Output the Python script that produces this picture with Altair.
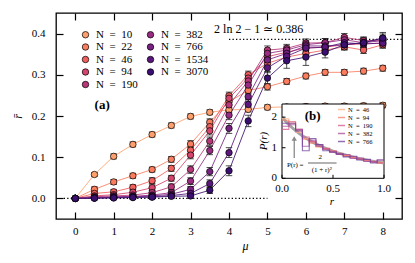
import altair as alt
import pandas as pd

FONT = "Liberation Serif"

# ---------------- main panel data ----------------
mu = [0, 0.5, 1, 1.5, 2, 2.5, 3, 3.5, 4, 4.5, 5, 5.5, 6, 6.5, 7, 7.5, 8]
sizes = ["10", "22", "46", "94", "190", "382", "766", "1534", "3070"]
colors = ["#fe9f6d", "#fa7d5e", "#f1605d", "#d4446c", "#b73779",
          "#972c80", "#782281", "#5a167c", "#3b0f70"]

rbar_10 = [0, 0.058, 0.102, 0.131, 0.155, 0.177, 0.199, 0.209, 0.215, 0.216, 0.221, 0.222, 0.223, 0.224, 0.224, 0.225, 0.226]
rbar_22 = [0, 0.022, 0.040, 0.055, 0.070, 0.095, 0.132, 0.185, 0.235, 0.262, 0.271, 0.284, 0.297, 0.306, 0.306, 0.309, 0.316]
rbar_46 = [0, 0.012, 0.016, 0.027, 0.043, 0.073, 0.117, 0.174, 0.249, 0.300, 0.328, 0.343, 0.352, 0.360, 0.368, 0.360, 0.373]
rbar_94 = [0, 0.006, 0.009, 0.015, 0.026, 0.049, 0.105, 0.164, 0.243, 0.292, 0.344, 0.355, 0.365, 0.367, 0.373, 0.375, 0.377]
rbar_190 = [0, 0.004, 0.006, 0.008, 0.014, 0.028, 0.070, 0.139, 0.227, 0.285, 0.360, 0.364, 0.377, 0.378, 0.391, 0.383, 0.383]
rbar_382 = [0, 0.002, 0.004, 0.005, 0.008, 0.014, 0.042, 0.116, 0.202, 0.275, 0.352, 0.360, 0.373, 0.378, 0.385, 0.378, 0.389]
rbar_766 = [0, 0.001, 0.003, 0.004, 0.006, 0.010, 0.022, 0.065, 0.170, 0.247, 0.336, 0.352, 0.370, 0.370, 0.373, 0.378, 0.383]
rbar_1534 = [0, 0.001, 0.002, 0.003, 0.004, 0.007, 0.012, 0.036, 0.111, 0.228, 0.317, 0.345, 0.365, 0.367, 0.378, 0.375, 0.377]
rbar_3070 = [0, 0.0005, 0.001, 0.002, 0.003, 0.005, 0.006, 0.020, 0.067, 0.188, 0.292, 0.334, 0.343, 0.355, 0.373, 0.378, 0.389]

err_10 = [0, 0.005, 0.006, 0.006, 0.006, 0.006, 0.006, 0.006, 0.006, 0.006, 0.006, 0.006, 0.006, 0.006, 0.006, 0.006, 0.006]
err_22 = [0, 0.006, 0.006, 0.006, 0.006, 0.007, 0.008, 0.008, 0.008, 0.008, 0.008, 0.007, 0.007, 0.007, 0.007, 0.007, 0.007]
err_46 = [0, 0.006, 0.006, 0.006, 0.007, 0.007, 0.008, 0.009, 0.009, 0.009, 0.009, 0.008, 0.008, 0.008, 0.008, 0.008, 0.008]
err_94 = [0, 0.005, 0.006, 0.006, 0.007, 0.007, 0.009, 0.010, 0.010, 0.010, 0.009, 0.009, 0.009, 0.009, 0.009, 0.009, 0.009]
err_190 = [0, 0.005, 0.005, 0.006, 0.006, 0.007, 0.009, 0.010, 0.011, 0.010, 0.010, 0.010, 0.010, 0.010, 0.009, 0.009, 0.009]
err_382 = [0, 0.004, 0.005, 0.005, 0.006, 0.006, 0.008, 0.010, 0.011, 0.011, 0.010, 0.010, 0.010, 0.010, 0.010, 0.010, 0.010]
err_766 = [0, 0.004, 0.004, 0.005, 0.005, 0.006, 0.007, 0.010, 0.012, 0.011, 0.011, 0.011, 0.011, 0.011, 0.011, 0.011, 0.011]
err_1534 = [0, 0.004, 0.004, 0.004, 0.005, 0.005, 0.006, 0.009, 0.012, 0.012, 0.012, 0.012, 0.012, 0.012, 0.012, 0.012, 0.012]
err_3070 = [0, 0.004, 0.004, 0.004, 0.004, 0.005, 0.006, 0.008, 0.012, 0.014, 0.016, 0.018, 0.020, 0.014, 0.012, 0.012, 0.014]

# reference lines
ref_x1 = [-0.3, 4.0]
ref_x2 = [5.0, 8.5]
ref_y = [0.0, 0.386]

# ---------------- inset data ----------------
r_edges = [0.0, 0.067, 0.133, 0.2, 0.267, 0.333, 0.4, 0.467, 0.533, 0.6, 0.667, 0.733, 0.8, 0.867, 0.933, 1.0]
hist_sizes = ["46", "94", "190", "382", "766"]
hist_colors = ["#fdae80", "#f47f6e", "#d6588a", "#a8489a", "#6b3f9c"]
hist_46 = [1.95, 1.85, 1.50, 1.30, 1.20, 1.02, 0.98, 0.88, 0.80, 0.75, 0.70, 0.62, 0.60, 0.55, 0.50]
hist_94 = [1.90, 1.80, 1.55, 1.28, 1.15, 1.05, 0.95, 0.90, 0.82, 0.74, 0.68, 0.64, 0.58, 0.56, 0.52]
hist_190 = [1.60, 1.85, 1.60, 1.35, 1.20, 1.10, 0.98, 0.85, 0.80, 0.72, 0.70, 0.62, 0.60, 0.53, 0.50]
hist_382 = [1.70, 1.75, 1.60, 1.05, 1.25, 1.05, 0.95, 0.88, 0.78, 0.78, 0.65, 0.66, 0.55, 0.55, 0.60]
hist_766 = [1.80, 1.80, 1.55, 0.90, 1.30, 1.10, 0.90, 0.85, 0.80, 0.70, 0.72, 0.60, 0.62, 0.50, 0.60]

r_theory = [0.0, 0.1, 0.2, 0.3, 0.4, 0.5, 0.6, 0.7, 0.8, 0.9, 1.0]
p_theory = [2.0, 1.653, 1.389, 1.183, 1.020, 0.889, 0.781, 0.692, 0.617, 0.554, 0.5]

inset_xticks = [0.0, 0.5, 1.0]
inset_xlabels = ["0.0", "0.5", "1.0"]
inset_yticks = [0, 1, 2]
inset_ylabels = ["0", "1", "2"]

# ---------------- build tables ----------------
series = [rbar_10, rbar_22, rbar_46, rbar_94, rbar_190, rbar_382, rbar_766, rbar_1534, rbar_3070]
errors = [err_10, err_22, err_46, err_94, err_190, err_382, err_766, err_1534, err_3070]
rows = []
for n, vals, es in zip(sizes, series, errors):
    for m, v, e in zip(mu, vals, es):
        rows.append({"mu": m, "rbar": v, "lo": v - e, "hi": v + e, "err": e, "N": n})
df = pd.DataFrame(rows)

ref_df = pd.DataFrame({"x1": ref_x1, "x2": ref_x2, "y": ref_y})

hrows = []
for n, vals in zip(hist_sizes, [hist_46, hist_94, hist_190, hist_382, hist_766]):
    steps = vals + [vals[-1]]
    for r, p in zip(r_edges, steps):
        hrows.append({"r": r, "p": p, "N": n})
hdf = pd.DataFrame(hrows)
th_df = pd.DataFrame({"r": r_theory, "p": p_theory})

# ---------------- main panel ----------------
W, H = 346, 206
xs = alt.Scale(domain=[-0.5, 8.5], nice=False, zero=False)
ys = alt.Scale(domain=[-0.05, 0.45], nice=False, zero=False)

common_tick = dict(tickSize=7, tickWidth=1.2, tickColor="black", domain=False, grid=False, offset=-7)
ax_bottom = alt.Axis(orient="bottom", values=list(range(9)), format="d",
                     labelFont=FONT, labelFontSize=11, labelColor="black", labelPadding=6,
                     title="μ", titleFont=FONT, titleFontStyle="italic", titleFontWeight="normal",
                     titleFontSize=12, titleColor="black", titleX=189, titleY=33,
                     titleBaseline="middle", **common_tick)
ax_left = alt.Axis(orient="left", values=[0, 0.1, 0.2, 0.3, 0.4], format=".1f",
                   labelFont=FONT, labelFontSize=11, labelColor="black", labelPadding=11,
                   title="r̄", titleFont=FONT, titleFontStyle="italic", titleFontWeight="normal",
                   titleFontSize=12, titleColor="black", titleX=-46, titleY=103,
                   titleBaseline="middle", **common_tick)
ax_top = alt.Axis(orient="top", values=list(range(9)), labels=False, title=None, **common_tick)
ax_right = alt.Axis(orient="right", values=[0, 0.1, 0.2, 0.3, 0.4], labels=False, title=None, **common_tick)

ref = alt.Chart(ref_df).mark_rule(color="black", strokeWidth=1.3, strokeDash=[1.3, 2.2]).encode(
    x=alt.X("x1:Q", scale=xs, axis=ax_top),
    x2="x2:Q",
    y=alt.Y("y:Q", scale=ys, axis=ax_right),
)

base = alt.Chart(df)
lines = base.mark_line(strokeWidth=1.0, opacity=0.85).encode(
    x=alt.X("mu:Q", scale=xs, axis=ax_bottom),
    y=alt.Y("rbar:Q", scale=ys, axis=ax_left),
    stroke=alt.Stroke("N:N", scale=alt.Scale(domain=sizes, range=colors), legend=None),
    order="mu:Q",
)
ebars = base.transform_filter("datum.err > 0").mark_rule(color="#222222", strokeWidth=0.8).encode(
    x=alt.X("mu:Q", scale=xs, axis=None),
    y=alt.Y("lo:Q", scale=ys, axis=None),
    y2="hi:Q",
)
cap_hi = base.transform_filter("datum.err > 0").mark_tick(
    orient="horizontal", size=6.5, thickness=0.8, color="#222222", opacity=1).encode(
    x=alt.X("mu:Q", scale=xs, axis=None),
    y=alt.Y("hi:Q", scale=ys, axis=None),
)
cap_lo = base.transform_filter("datum.err > 0").mark_tick(
    orient="horizontal", size=6.5, thickness=0.8, color="#222222", opacity=1).encode(
    x=alt.X("mu:Q", scale=xs, axis=None),
    y=alt.Y("lo:Q", scale=ys, axis=None),
)
points = base.mark_circle(size=42, stroke="black", strokeWidth=0.7, opacity=1).encode(
    x=alt.X("mu:Q", scale=xs, axis=None),
    y=alt.Y("rbar:Q", scale=ys, axis=None),
    fill=alt.Fill("N:N", scale=alt.Scale(domain=sizes, range=colors),
                  legend=alt.Legend(orient="none", legendX=24, legendY=16, columns=2, title=None,
                                    symbolType="circle", symbolSize=42, symbolStrokeColor="black",
                                    symbolStrokeWidth=0.7, labelFont=FONT, labelFontSize=11,
                                    labelColor="black", labelOffset=5, rowPadding=0.5,
                                    columnPadding=7, padding=0,
                                    labelExpr="'N\u2002=\u2002' + datum.label")),
)

annot = alt.Chart(pd.DataFrame({"x": [4.77], "y": [0.411], "t": ["2 ln 2 − 1 ≃ 0.386"]})).mark_text(
    font=FONT, fontSize=12, color="black", align="center", baseline="middle").encode(
    x=alt.X("x:Q", scale=xs, axis=None), y=alt.Y("y:Q", scale=ys, axis=None), text="t:N")
label_a = alt.Chart(pd.DataFrame({"x": [0.70], "y": [0.226], "t": ["(a)"]})).mark_text(
    font=FONT, fontSize=13, fontWeight="bold", color="black", align="center", baseline="middle").encode(
    x=alt.X("x:Q", scale=xs, axis=None), y=alt.Y("y:Q", scale=ys, axis=None), text="t:N")

main = alt.layer(ref, lines, ebars, cap_hi, cap_lo, points, annot, label_a).resolve_axis(
    x="independent", y="independent")

# ---------------- inset ----------------
ixs = alt.Scale(domain=[0, 1], range=[226, 328], nice=False, zero=False)
iys = alt.Scale(domain=[0, 2.43], range=[165.3, 91], nice=False, zero=False)

bg = alt.Chart(pd.DataFrame({"r0": [0], "r1": [1], "p0": [0], "p1": [2.43]})).mark_rect(
    fill="white", stroke="black", strokeWidth=1).encode(
    x=alt.X("r0:Q", scale=ixs, axis=None), x2="r1:Q",
    y=alt.Y("p0:Q", scale=iys, axis=None), y2="p1:Q")

theory = alt.Chart(th_df).mark_line(color="#9a9a9a", strokeWidth=3, opacity=0.9, interpolate="monotone").encode(
    x=alt.X("r:Q", scale=ixs, axis=None), y=alt.Y("p:Q", scale=iys, axis=None))

hist = alt.Chart(hdf).mark_line(interpolate="step-after", strokeWidth=1.1, opacity=0.75).encode(
    x=alt.X("r:Q", scale=ixs, axis=None),
    y=alt.Y("p:Q", scale=iys, axis=None),
    stroke=alt.Stroke("N:N", scale=alt.Scale(domain=hist_sizes, range=hist_colors),
                      legend=alt.Legend(orient="none", legendX=281, legendY=92, title=None,
                                        symbolType="stroke", symbolSize=49, symbolStrokeWidth=1.5,
                                        labelFont=FONT, labelFontSize=6.5, labelColor="black",
                                        labelOffset=2, rowPadding=0, padding=0,
                                        labelExpr="'N\u2002=\u2002' + datum.label")),
    order="r:Q",
)

# inset tick marks (inward) and tick labels
xt_df = pd.DataFrame({"r": inset_xticks, "lab": inset_xlabels})
yt_df = pd.DataFrame({"p": inset_yticks, "lab": inset_ylabels})
ixtick = alt.Chart(xt_df).mark_rule(color="black", strokeWidth=1).encode(
    x=alt.X("r:Q", scale=ixs, axis=None), y=alt.value(165.3), y2=alt.value(161.8))
ixlab = alt.Chart(xt_df).mark_text(font=FONT, fontSize=11, color="black", align="center", baseline="top").encode(
    x=alt.X("r:Q", scale=ixs, axis=None), y=alt.value(170), text="lab:N")
iytick = alt.Chart(yt_df).mark_rule(color="black", strokeWidth=1).encode(
    y=alt.Y("p:Q", scale=iys, axis=None), x=alt.value(226), x2=alt.value(229.5))
iylab = alt.Chart(yt_df).mark_text(font=FONT, fontSize=11, color="black", align="right", baseline="middle").encode(
    y=alt.Y("p:Q", scale=iys, axis=None), x=alt.value(221), text="lab:N")
ixtitle = alt.Chart(pd.DataFrame({"r": [0.49], "t": ["r"]})).mark_text(
    font=FONT, fontSize=11, fontStyle="italic", color="black", align="center", baseline="middle").encode(
    x=alt.X("r:Q", scale=ixs, axis=None), y=alt.value(188.7), text="t:N")
iytitle = alt.Chart(pd.DataFrame({"p": [1.22], "t": ["P(r)"]})).mark_text(
    font=FONT, fontSize=11, fontStyle="italic", color="black", align="center", baseline="middle",
    angle=270).encode(
    y=alt.Y("p:Q", scale=iys, axis=None), x=alt.value(208), text="t:N")

arrow_shaft = alt.Chart(pd.DataFrame({"r": [0.12], "p0": [0.66], "p1": [1.28]})).mark_rule(
    color="#8a8a8a", strokeWidth=1.3).encode(
    x=alt.X("r:Q", scale=ixs, axis=None), y=alt.Y("p0:Q", scale=iys, axis=None), y2="p1:Q")
arrow_head = alt.Chart(pd.DataFrame({"r": [0.12], "p": [1.30]})).mark_point(
    shape="triangle-up", filled=True, color="#8a8a8a", size=28, opacity=1).encode(
    x=alt.X("r:Q", scale=ixs, axis=None), y=alt.Y("p:Q", scale=iys, axis=None))

label_b = alt.Chart(pd.DataFrame({"r": [0.30], "p": [2.03], "t": ["(b)"]})).mark_text(
    font=FONT, fontSize=13, fontWeight="bold", color="black", align="center", baseline="middle").encode(
    x=alt.X("r:Q", scale=ixs, axis=None), y=alt.Y("p:Q", scale=iys, axis=None), text="t:N")
formula = alt.Chart(pd.DataFrame({
    "r": [0.13, 0.375, 0.39],
    "p": [0.45, 0.70, 0.27],
    "t": ["P(r) =", "2", "(1 + r)²"],
})).mark_text(font=FONT, fontSize=7, color="black", align="center", baseline="middle").encode(
    x=alt.X("r:Q", scale=ixs, axis=None), y=alt.Y("p:Q", scale=iys, axis=None), text="t:N")
frac_bar = alt.Chart(pd.DataFrame({"r0": [0.255], "r1": [0.535], "p": [0.50]})).mark_rule(
    color="black", strokeWidth=0.6).encode(
    x=alt.X("r0:Q", scale=ixs, axis=None), x2="r1:Q", y=alt.Y("p:Q", scale=iys, axis=None))

inset = alt.layer(bg, theory, hist, arrow_shaft, arrow_head, label_b, formula, frac_bar,
                  ixtick, ixlab, iytick, iylab, ixtitle, iytitle)

chart = alt.layer(main, inset).resolve_scale(
    x="independent", y="independent", stroke="independent"
).properties(
    width=W, height=H,
    autosize=alt.AutoSizeParams(type="none"),
    padding={"left": 48, "top": 5, "right": 5, "bottom": 40},
).configure_view(stroke="black", strokeWidth=1.3)

chart.save("out.html", embed_options={"renderer": "svg", "actions": False})
